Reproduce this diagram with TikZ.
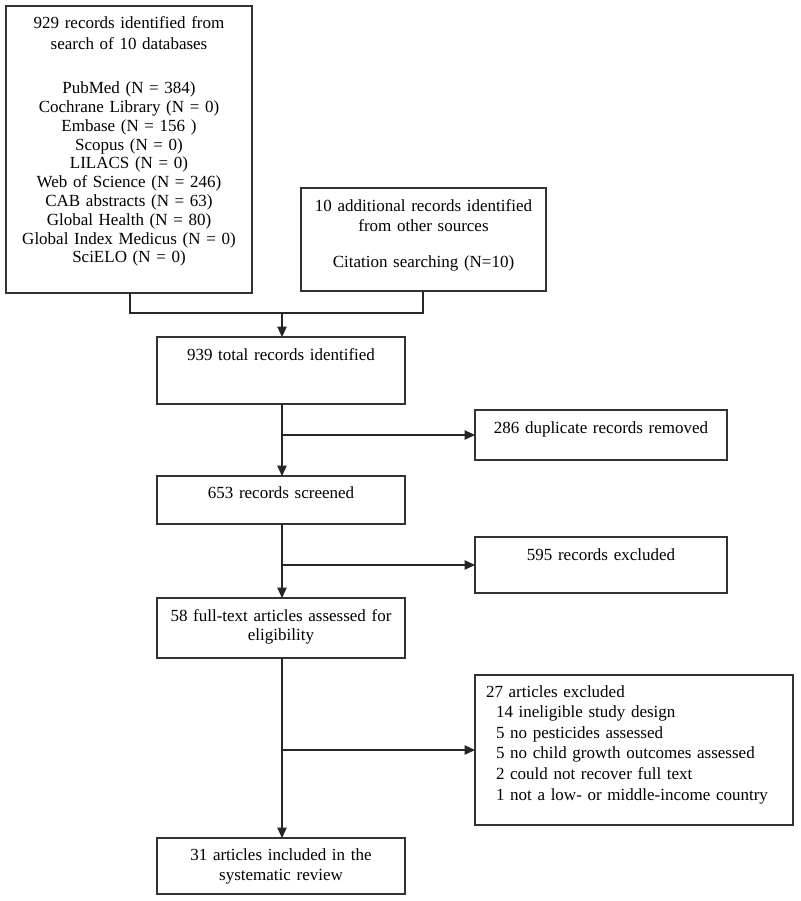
\documentclass[tikz,border=0pt]{standalone}
\usepackage{fontspec}
\setmainfont{Liberation Serif}
\usetikzlibrary{arrows.meta}
\begin{document}
\begin{tikzpicture}[x=1pt,y=-1pt,
  box/.style={draw=black!80, line width=1.1pt, inner sep=0pt, outer sep=0pt},
  txt/.style={inner sep=0pt, outer sep=0pt, anchor=base, align=center, font=\fontsize{17}{20}\selectfont},
  ltxt/.style={inner sep=0pt, outer sep=0pt, anchor=base west, align=left, font=\fontsize{17}{20.6}\selectfont},
  arr/.style={line width=1.1pt, draw=black!85, -{Triangle[length=10.5pt,width=9.5pt]}},
  ln/.style={line width=1.1pt, draw=black!85}]
\useasboundingbox (0,0) rectangle (800,901);

% boxes
\node[box, minimum width=246pt, minimum height=287pt] (A) at (129,149.5) {};
\node[box, minimum width=245pt, minimum height=103pt] (B) at (423.5,239.5) {};
\node[box, minimum width=248pt, minimum height=67pt] (C) at (281,370.5) {};
\node[box, minimum width=252pt, minimum height=50pt] (E) at (601,435) {};
\node[box, minimum width=248pt, minimum height=48pt] (D) at (281,500) {};
\node[box, minimum width=252pt, minimum height=56pt] (F) at (601,565) {};
\node[box, minimum width=248pt, minimum height=60pt] (G) at (281,628) {};
\node[box, minimum width=318pt, minimum height=150pt] (I) at (634,750) {};
\node[box, minimum width=248pt, minimum height=56pt] (H) at (281,866) {};

% texts
\node[txt, text width=240pt, font=\fontsize{17}{18.8}\selectfont] (At) at (129,29)
  {929 records identified from\\[1.9pt]
   search of 10 databases\\[25.2pt]
   PubMed (N = 384)\\
   Cochrane Library (N = 0)\\
   Embase (N = 156 )\\
   Scopus (N = 0)\\
   LILACS (N = 0)\\
   Web of Science (N = 246)\\
   CAB abstracts (N = 63)\\
   Global Health (N = 80)\\
   Global Index Medicus (N = 0)\\
   SciELO (N = 0)};
\node[txt, text width=240pt] (Bt) at (423.5,212)
  {10 additional records identified\\
   from other sources\\[15pt]
   Citation searching (N=10)};
\node[txt, text width=240pt] (Ct) at (281,360) {939 total records identified};
\node[txt, text width=250pt] (Et) at (601,433) {286 duplicate records removed};
\node[txt, text width=240pt] (Dt) at (281,498) {653 records screened};
\node[txt, text width=250pt] (Ft) at (601,560) {595 records excluded};
\node[txt, text width=240pt, font=\fontsize{17}{19.5}\selectfont] (Gt) at (281,621)
  {58 full-text articles assessed for\\ eligibility};
\node[ltxt, text width=310pt] (It) at (486,697)
  {27 articles excluded\\
   \hspace*{10pt}14 ineligible study design\\
   \hspace*{10pt}5 no pesticides assessed\\
   \hspace*{10pt}5 no child growth outcomes assessed\\
   \hspace*{10pt}2 could not recover full text\\
   \hspace*{10pt}1 not a low- or middle-income country};
\node[txt, text width=240pt] (Ht) at (281,860)
  {31 articles included in the\\ systematic review};

% connectors
\coordinate (J) at (282,313);
\coordinate (b1) at (282,435);
\coordinate (b2) at (282,565);
\coordinate (b3) at (282,750);
\draw[ln] (A.south -| 130,0) |- (J);
\draw[ln] (B.south -| 423,0) |- (J);
\draw[arr] (J) -- (J |- C.north);
\draw[arr] (J |- C.south) -- (J |- D.north);
\draw[arr] (b1) -- (E.west |- b1);
\draw[arr] (J |- D.south) -- (J |- G.north);
\draw[arr] (b2) -- (F.west |- b2);
\draw[arr] (J |- G.south) -- (J |- H.north);
\draw[arr] (b3) -- (I.west |- b3);
\end{tikzpicture}
\end{document}
